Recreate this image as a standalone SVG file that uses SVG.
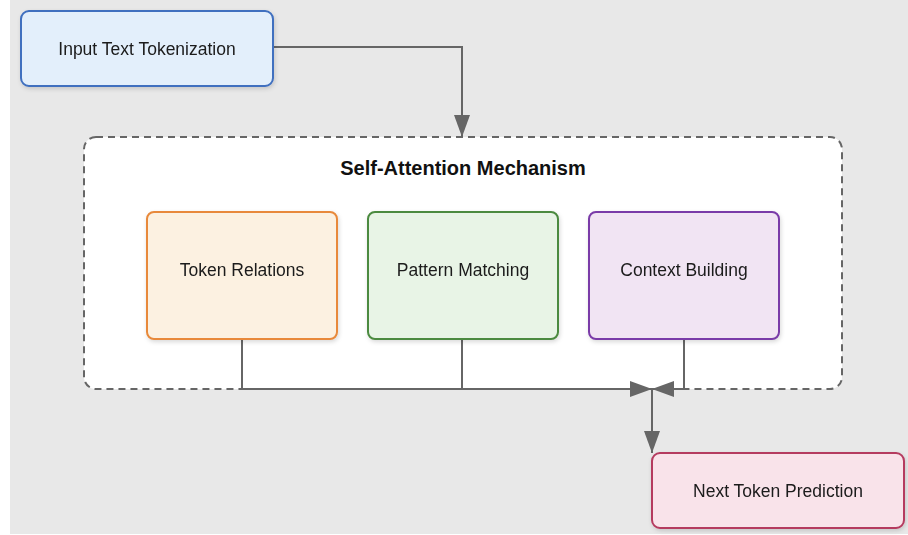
<svg xmlns="http://www.w3.org/2000/svg" width="908" height="535" viewBox="0 0 908 535">
  <defs>
    <style>
      .lbl { font-family: "Liberation Sans", Arial, sans-serif; font-size: 17.5px; fill: #1a1a1a; text-anchor: middle; dominant-baseline: central; }
      .title { font-family: "Liberation Sans", Arial, sans-serif; font-size: 20px; font-weight: bold; fill: #111; text-anchor: middle; dominant-baseline: central; }
      .box { stroke-width: 2; }
      .wire { fill: none; stroke: #666; stroke-width: 2; }
    </style>
    <marker id="arrowBig" viewBox="0 0 22 16" refX="22" refY="8" markerWidth="22" markerHeight="16" markerUnits="userSpaceOnUse" orient="auto">
      <path d="M0,0 L22,8 L0,16 Z" fill="#666"/>
    </marker>
    <filter id="shadow" x="-10%" y="-10%" width="130%" height="140%">
      <feDropShadow dx="1" dy="2" stdDeviation="2" flood-color="#000" flood-opacity="0.15"/>
    </filter>
  </defs>

  <!-- page background -->
  <rect x="0" y="0" width="908" height="535" fill="#ffffff"/>
  <rect x="10" y="0" width="898" height="534" fill="#e8e8e8"/>

  <!-- attention container -->
  <g id="self-attention">
    <rect x="84" y="137" width="758" height="252" rx="12" fill="#ffffff" stroke="#666" stroke-width="2" stroke-dasharray="7,5"/>
    <text class="title" x="463" y="168">Self-Attention Mechanism</text>
  </g>

  <!-- connectors -->
  <g id="connectors">
    <path class="wire" d="M273,47 H462 V137" marker-end="url(#arrowBig)"/>
    <path class="wire" d="M242,340 V389 H652" marker-end="url(#arrowBig)"/>
    <path class="wire" d="M462,340 V389"/>
    <path class="wire" d="M684,340 V389 H652" marker-end="url(#arrowBig)"/>
    <path class="wire" d="M652,389 V453" marker-end="url(#arrowBig)"/>
  </g>

  <g id="input-tokenization" filter="url(#shadow)">
    <rect class="box" x="21" y="11" width="252" height="75" rx="8" fill="#e3effb" stroke="#3f6fbf"/>
    <text class="lbl" x="147" y="49">Input Text Tokenization</text>
  </g>

  <g id="token-relations" filter="url(#shadow)">
    <rect class="box" x="147" y="212" width="190" height="127" rx="7" fill="#fcf1e1" stroke="#e8893a"/>
    <text class="lbl" x="242" y="270">Token Relations</text>
  </g>

  <g id="pattern-matching" filter="url(#shadow)">
    <rect class="box" x="368" y="212" width="190" height="127" rx="7" fill="#e8f4e6" stroke="#4b8a3f"/>
    <text class="lbl" x="463" y="270">Pattern Matching</text>
  </g>

  <g id="context-building" filter="url(#shadow)">
    <rect class="box" x="589" y="212" width="190" height="127" rx="7" fill="#f1e4f3" stroke="#7a3aa8"/>
    <text class="lbl" x="684" y="270">Context Building</text>
  </g>

  <g id="next-token-prediction" filter="url(#shadow)">
    <rect class="box" x="652" y="453" width="252" height="75" rx="8" fill="#f9e3ea" stroke="#b53a5f"/>
    <text class="lbl" x="778" y="491">Next Token Prediction</text>
  </g>
</svg>
